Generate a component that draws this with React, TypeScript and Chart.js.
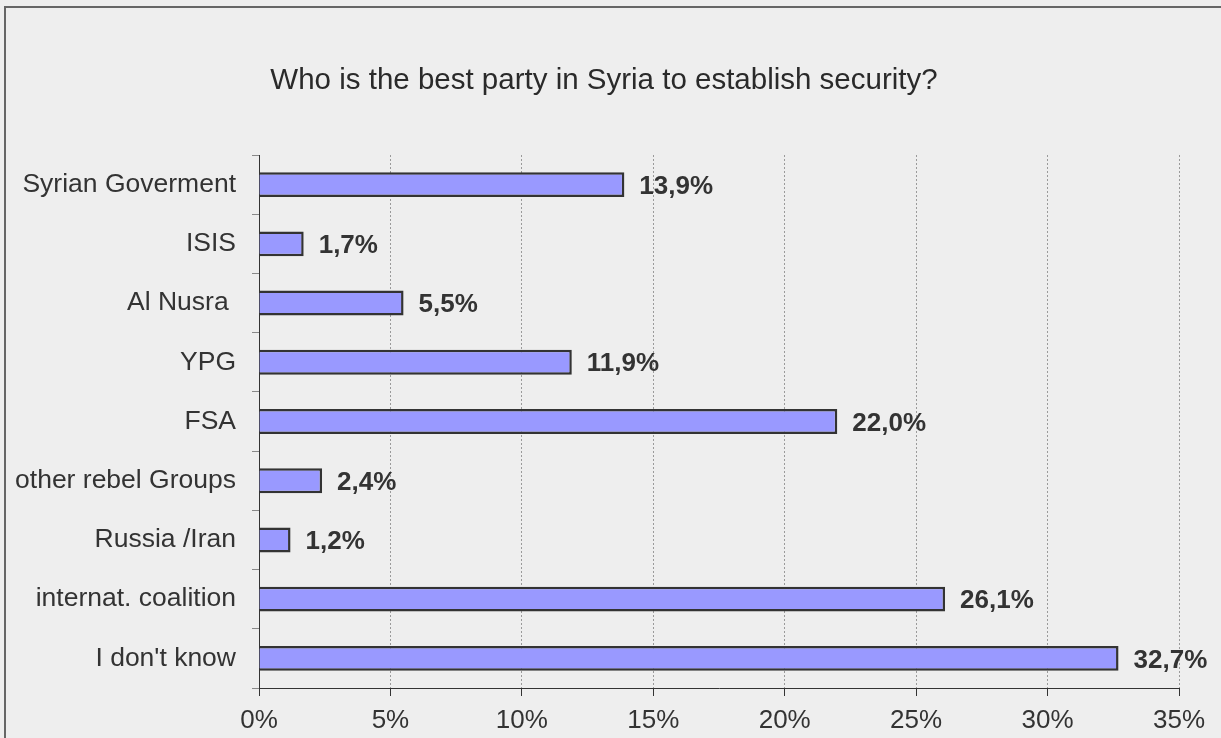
import React, { useEffect, useRef } from "react";
import { Chart, registerables } from "chart.js";

Chart.register(...registerables);

const categories = [
  "Syrian Goverment",
  "ISIS",
  "Al Nusra ",
  "YPG",
  "FSA",
  "other rebel Groups",
  "Russia /Iran",
  "internat. coalition",
  "I don't know",
];
const values = [13.9, 1.7, 5.5, 11.9, 22.0, 2.4, 1.2, 26.1, 32.7];
const xTicks = [0, 5, 10, 15, 20, 25, 30, 35];
const titleText = "Who is the best party in Syria to establish security?";

const FONT = "'Liberation Sans', Arial, sans-serif";

const valueLabels = {
  id: "valueLabels",
  afterDatasetsDraw(chart: any) {
    const ctx = chart.ctx;
    const meta = chart.getDatasetMeta(0);
    ctx.save();
    ctx.font = `bold 26px ${FONT}`;
    ctx.fillStyle = "#333333";
    ctx.textAlign = "left";
    ctx.textBaseline = "middle";
    meta.data.forEach((el: any, i: number) => {
      const v = values[i];
      ctx.fillText(v.toFixed(1).replace(".", ",") + "%", el.x + 15, el.y + 2);
    });
    ctx.restore();
  },
};

const titlePlugin = {
  id: "customTitle",
  afterDraw(chart: any) {
    const ctx = chart.ctx;
    ctx.save();
    ctx.font = `29.5px ${FONT}`;
    ctx.fillStyle = "#2a2a2a";
    ctx.textAlign = "center";
    ctx.textBaseline = "middle";
    ctx.fillText(titleText, 604, 81);
    ctx.restore();
  },
};

export default function App() {
  const ref = useRef<HTMLCanvasElement>(null);
  useEffect(() => {
    document.body.style.margin = "0";
    document.body.style.background = "#eeeeee";
    const chart = new Chart(ref.current!, {
      type: "bar",
      data: {
        labels: categories,
        datasets: [
          {
            data: values,
            backgroundColor: "#9999ff",
            borderColor: "#333333",
            borderWidth: 2.5,
            barPercentage: 0.42,
            categoryPercentage: 1,
          },
        ],
      },
      plugins: [valueLabels, titlePlugin],
      options: {
        indexAxis: "y",
        animation: false,
        responsive: false,
        layout: { padding: { left: 0, right: 42, top: 155, bottom: 0 } },
        plugins: {
          legend: { display: false },
          tooltip: { enabled: false },
          title: { display: false },
        },
        scales: {
          x: {
            min: 0,
            max: 35,
            afterBuildTicks(scale: any) {
              scale.ticks = xTicks.map((v) => ({ value: v }));
            },
            afterFit(scale: any) {
              scale.height = 50;
            },
            grid: {
              color: "#9a9a9a",
              lineWidth: 1,
              tickColor: "#333333",
              tickLength: 8,
            },
            border: { color: "#333333", width: 1, dash: [2, 2] as any },
            ticks: {
              color: "#333333",
              font: { family: FONT, size: 26 },
              padding: 9,
              callback: (v: any) => v + "%",
            },
          },
          y: {
            afterFit(scale: any) {
              scale.width = 259;
            },
            grid: {
              drawOnChartArea: false,
              offset: true,
              color: "#888888",
              tickLength: 7,
            },
            border: { color: "#333333", width: 1 },
            ticks: {
              color: "#333333",
              font: { family: FONT, size: 26.5 },
              padding: 16,
            },
          },
        },
      },
    });
    return () => chart.destroy();
  }, []);
  return (
    <div style={{ position: "relative", width: 1221, height: 738, background: "#eeeeee", overflow: "hidden" }}>
      <canvas ref={ref} width={1221} height={738} style={{ position: "absolute", left: 0, top: 0 }} />
      <div
        style={{
          position: "absolute",
          left: 4,
          top: 6,
          width: 1240,
          height: 800,
          borderLeft: "2px solid #666666",
          borderTop: "2px solid #666666",
          pointerEvents: "none",
        }}
      />
    </div>
  );
}
